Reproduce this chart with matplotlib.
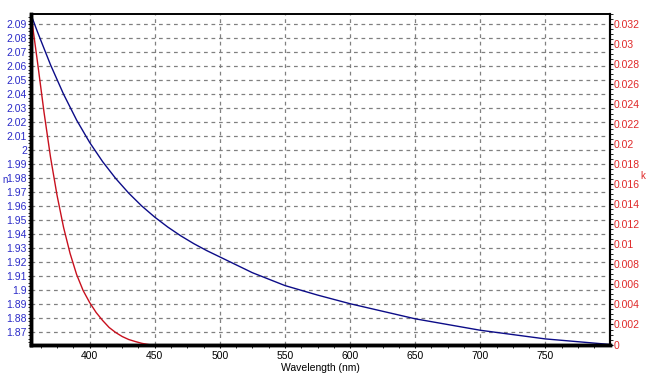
import matplotlib.pyplot as plt
from matplotlib.ticker import MultipleLocator, FuncFormatter

plt.rcParams['font.family'] = ['Liberation Sans', 'DejaVu Sans']

# refractive index n (blue, left axis)
wl_n = [355, 360, 370, 380, 390, 400, 410, 420, 430, 440, 450, 460, 470,
        480, 490, 500, 525, 550, 575, 600, 650, 700, 750, 800]
n_vals = [2.097, 2.0845, 2.061, 2.040, 2.0215, 2.0055, 1.9917, 1.9797,
          1.9692, 1.960, 1.952, 1.9449, 1.9386, 1.933, 1.928, 1.9235,
          1.9122, 1.903, 1.8962, 1.890, 1.8792, 1.871, 1.8648, 1.8608]

# extinction coefficient k (red, right axis)
wl_k = [355, 360, 365, 370, 375, 380, 385, 390, 395, 400, 405, 410, 415,
        420, 425, 430, 435, 440, 445]
k_vals = [0.033, 0.0282, 0.0232, 0.0187, 0.0149, 0.0117, 0.0091, 0.0070,
          0.0054, 0.0042, 0.0032, 0.0024, 0.0017, 0.0012, 0.0008, 0.0005,
          0.0003, 0.00012, 0.0]

blue_txt = '#2B2BC8'
red_txt = '#E02828'

fig = plt.figure(figsize=(6.53, 3.78), dpi=100)
ax = fig.add_axes([0.0475, 0.0886, 0.8865, 0.8735])
ax2 = ax.twinx()

ax.plot(wl_n, n_vals, color='#0C0C88', lw=1.0)
ax2.plot(wl_k, k_vals, color='#C8101E', lw=1.0)

ax.set_xlim(355, 799.5)
ax.set_ylim(1.8608, 2.0972)
ax2.set_ylim(0, 0.033)

ax.xaxis.set_major_locator(MultipleLocator(50))
ax.xaxis.set_minor_locator(MultipleLocator(12.5))
ax.yaxis.set_major_locator(MultipleLocator(0.01))
ax.yaxis.set_minor_locator(MultipleLocator(0.0025))
ax2.yaxis.set_major_locator(MultipleLocator(0.002))
ax2.yaxis.set_minor_locator(MultipleLocator(0.0005))

fmt = FuncFormatter(lambda v, p: '%g' % round(v, 4))
ax.yaxis.set_major_formatter(fmt)
ax2.yaxis.set_major_formatter(fmt)

ax.grid(True, which='major', color='#808080', linestyle=(0, (3, 3)), lw=0.9)

ax.tick_params(axis='x', which='both', direction='out', length=2, labelsize=7.5, pad=3)
ax.tick_params(axis='y', which='both', direction='out', length=2, labelsize=7.5,
               labelcolor=blue_txt, pad=1)
ax2.tick_params(axis='y', which='both', direction='out', length=2, labelsize=7.5,
                labelcolor=red_txt, pad=1)

for a in (ax, ax2):
    a.spines['left'].set_linewidth(2.5)
    a.spines['bottom'].set_linewidth(2.5)
    a.spines['right'].set_linewidth(1.5)
    a.spines['top'].set_linewidth(1.2)

ax.set_xlabel('Wavelength (nm)', fontsize=7.5, labelpad=1)
fig.text(2 / 653, 1 - 180 / 378, 'n', fontsize=7, color=blue_txt, va='center', ha='left')
fig.text(640 / 653, 1 - 176 / 378, 'k', fontsize=7, color=red_txt, va='center', ha='left')

fig.savefig('out.png', dpi=100)
